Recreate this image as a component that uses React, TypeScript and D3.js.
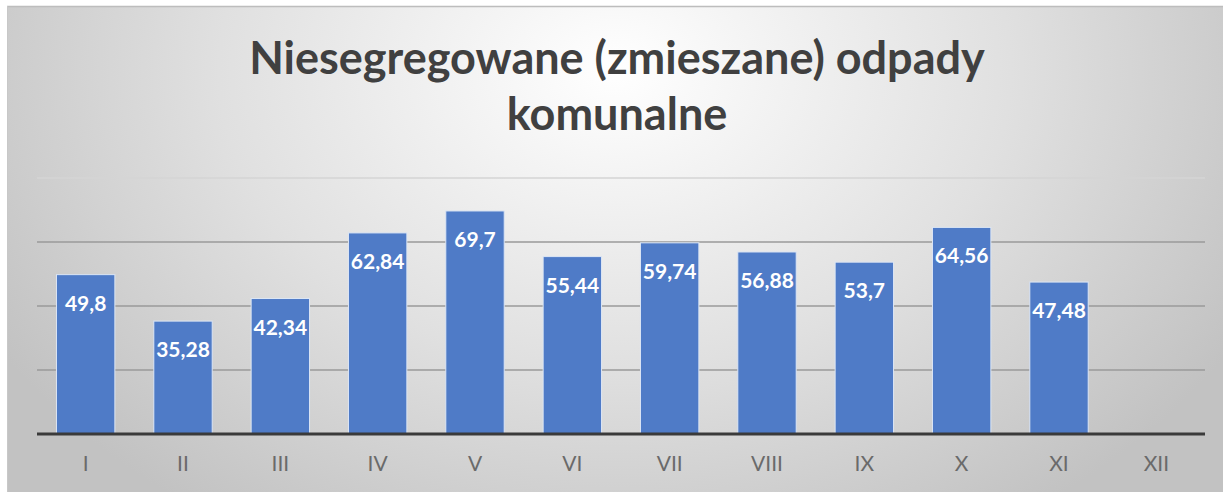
import React from "react";
import * as d3 from "d3";

const categories = ["I", "II", "III", "IV", "V", "VI", "VII", "VIII", "IX", "X", "XI", "XII"];
const values: (number | null)[] = [49.8, 35.28, 42.34, 62.84, 69.7, 55.44, 59.74, 56.88, 53.7, 64.56, 47.48, null];
const labels = ["49,8", "35,28", "42,34", "62,84", "69,7", "55,44", "59,74", "56,88", "53,7", "64,56", "47,48", ""];
const gridTicks = [20, 40, 60, 80];
const titleLines = ["Niesegregowane (zmieszane) odpady", "komunalne"];

const W = 1223;
const H = 492;

export default function App() {
  const x = d3
    .scaleBand<string>()
    .domain(categories)
    .range([37, 1205])
    .paddingInner(0.4)
    .paddingOuter(0.2);
  const y = d3.scaleLinear().domain([0, 80]).range([434, 178]);

  return (
    <svg
      width={W}
      height={H}
      style={{ position: "absolute", left: 0, top: 0, display: "block" }}
      fontFamily="Lato, 'Open Sans', sans-serif"
    >
      <defs>
        <radialGradient id="bg" cx="615" cy="70" r="720" gradientUnits="userSpaceOnUse"
          gradientTransform="translate(615 70) scale(1 0.75) translate(-615 -70)">
          <stop offset="0" stopColor="#ffffff" />
          <stop offset="0.55" stopColor="#e0e0e0" />
          <stop offset="1" stopColor="#c2c2c2" />
        </radialGradient>
      </defs>
      <rect x={0} y={0} width={W} height={H} fill="#ffffff" />
      <rect x={7} y={6} width={W - 7} height={H - 6} fill="url(#bg)" />
      <line x1={7} x2={W} y1={6.5} y2={6.5} stroke="#bdbdbd" strokeWidth={1.5} />
      <line x1={7.5} x2={7.5} y1={6} y2={H} stroke="#c8c8c8" strokeWidth={1} />

      {titleLines.map((t, i) => (
        <text
          key={i}
          x={617}
          y={74 + i * 56}
          textAnchor="middle"
          fontSize={45}
          fontWeight={700}
          fill="#404040"
        >
          {t}
        </text>
      ))}

      {gridTicks.map((t) => (
        <line
          key={t}
          x1={37}
          x2={1205}
          y1={y(t)}
          y2={y(t)}
          stroke={t === 80 ? "#d4d4d4" : "#9a9a9a"}
          strokeWidth={1.5}
        />
      ))}

      {categories.map((c, i) => {
        const v = values[i];
        if (v == null) return null;
        const bx = x(c)!;
        return (
          <g key={c}>
            <rect
              x={bx}
              y={y(v)}
              width={x.bandwidth()}
              height={y(0) - y(v)}
              fill="#4f7bc7"
              stroke="#dce6f5"
              strokeWidth={1}
            />
            <text
              x={bx + x.bandwidth() / 2}
              y={y(v) + 36}
              textAnchor="middle"
              fontSize={21}
              fontWeight={700}
              fill="#ffffff"
            >
              {labels[i]}
            </text>
          </g>
        );
      })}

      <line x1={37} x2={1205} y1={y(0)} y2={y(0)} stroke="#3a3a3a" strokeWidth={3} />

      {categories.map((c) => (
        <text
          key={c}
          x={x(c)! + x.bandwidth() / 2}
          y={471}
          textAnchor="middle"
          fontSize={21}
          fontWeight={400}
          fill="#6a6a6a"
        >
          {c}
        </text>
      ))}
    </svg>
  );
}
